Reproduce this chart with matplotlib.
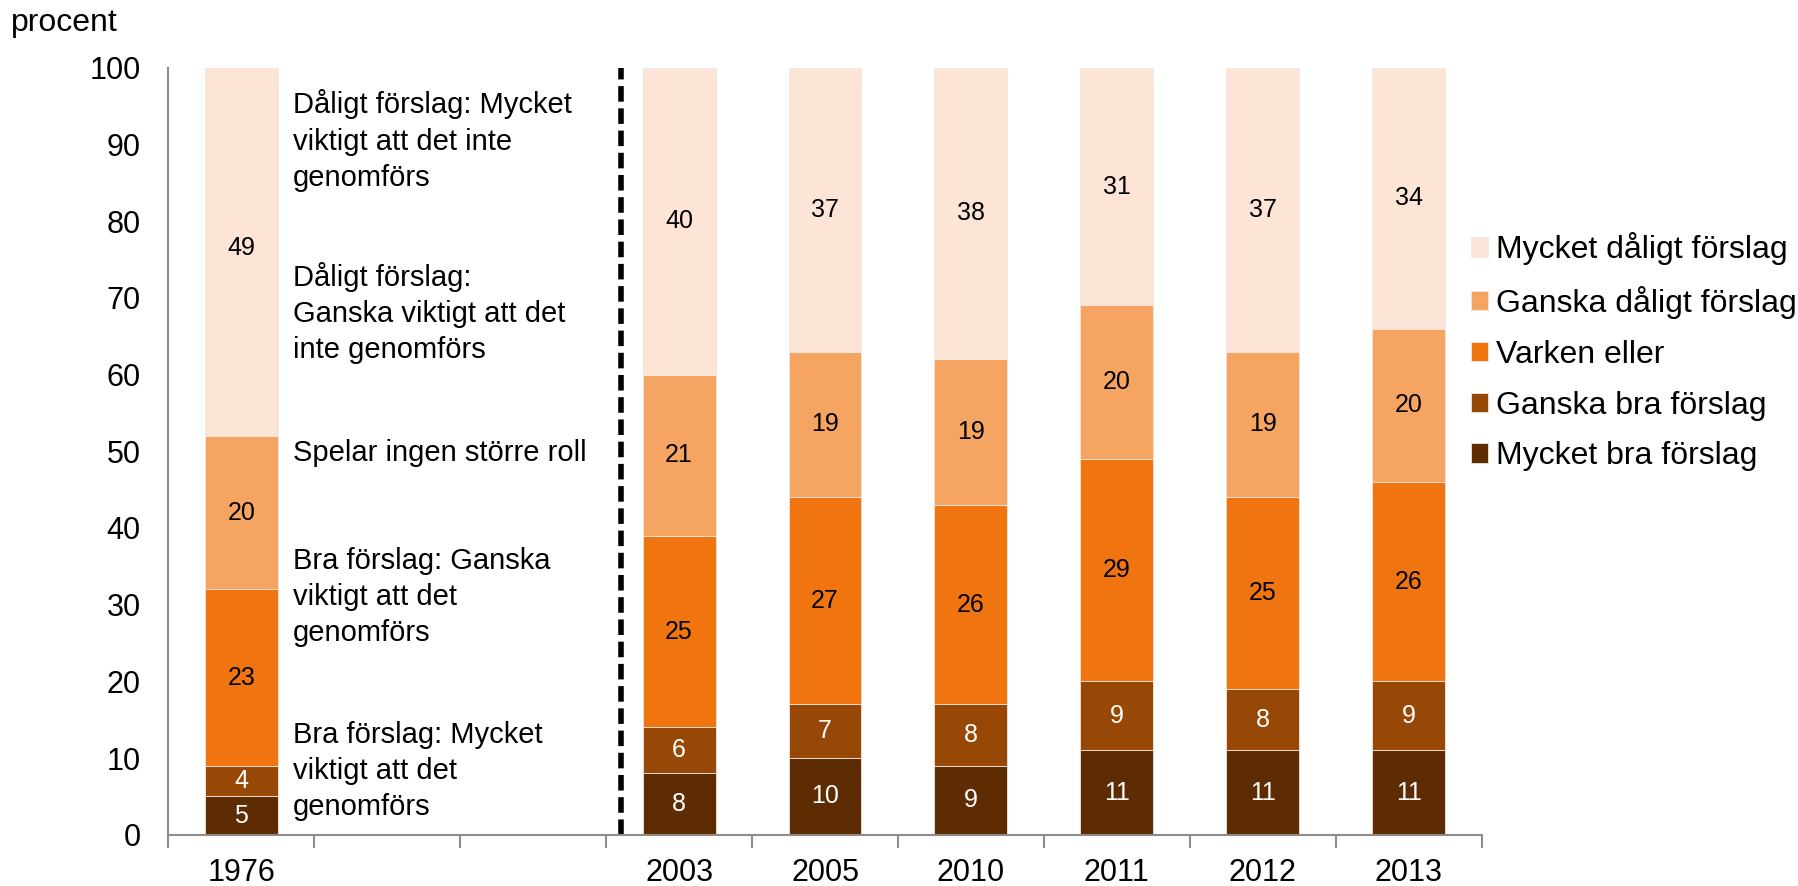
import numpy as np
import matplotlib
matplotlib.use('Agg')
import matplotlib.pyplot as plt

plt.rcParams['font.family'] = ['Liberation Sans', 'DejaVu Sans']

# categories on the x axis, two empty slots hold the 1976 explanations
years = ['1976', '', '', '2003', '2005', '2010', '2011', '2012', '2013']

series = ['Mycket bra förslag', 'Ganska bra förslag', 'Varken eller',
          'Ganska dåligt förslag', 'Mycket dåligt förslag']
colors = ['#5e2c02', '#984806', '#f07511', '#f5a561', '#fce4d6']
text_colors = ['white', 'white', 'black', 'black', 'black']

mycket_bra = [5, 0, 0, 8, 10, 9, 11, 11, 11]
ganska_bra = [4, 0, 0, 6, 7, 8, 9, 8, 9]
varken = [23, 0, 0, 25, 27, 26, 29, 25, 26]
ganska_daligt = [20, 0, 0, 21, 19, 19, 20, 19, 20]
mycket_daligt = [49, 0, 0, 40, 37, 38, 31, 37, 34]

notes = ['Dåligt förslag: Mycket\nviktigt att det inte\ngenomförs',
         'Dåligt förslag:\nGanska viktigt att det\ninte genomförs',
         'Spelar ingen större roll',
         'Bra förslag: Ganska\nviktigt att det\ngenomförs',
         'Bra förslag: Mycket\nviktigt att det\ngenomförs']
note_y = [90.5, 68.0, 49.8, 31.0, 8.3]

fig = plt.figure(figsize=(17.98, 8.86), dpi=100)
ax = fig.add_axes([0.0937, 0.0578, 0.7303, 0.8658])

x = np.arange(len(years))
data = [mycket_bra, ganska_bra, varken, ganska_daligt, mycket_daligt]
bottom = np.zeros(len(years))
handles = []
for vals, name, col, tcol in zip(data, series, colors, text_colors):
    vals = np.array(vals, dtype=float)
    bars = ax.bar(x, vals, 0.5, bottom=bottom, color=col, label=name,
                  edgecolor='#f3e6dc', linewidth=0.6)
    handles.append(bars)
    for xi, v, b in zip(x, vals, bottom):
        if v > 0:
            ax.text(xi, b + v / 2, str(int(v)), ha='center', va='center',
                    fontsize=18, color=tcol)
    bottom += vals

for txt, ty in zip(notes, note_y):
    ax.text(0.355, ty, txt, ha='left', va='center', fontsize=21,
            linespacing=1.37)

# dashed separator between 1976 and the later years
ax.plot([2.6, 2.6], [0, 100], color='black', lw=4, dashes=(2.8, 1.2))

ax.set_xlim(-0.5, 8.5)
ax.set_ylim(0, 100)
ax.set_yticks(range(0, 101, 10))
ax.tick_params(axis='y', length=0, pad=20, labelsize=22)
ax.set_xticks(x)
ax.set_xticklabels(years)
ax.tick_params(axis='x', which='major', length=0, pad=17, labelsize=22)
ax.set_xticks(np.arange(-0.5, 9, 1), minor=True)
ax.tick_params(axis='x', which='minor', length=9, width=1.5, color='#8c8c8c')

for s in ['top', 'right']:
    ax.spines[s].set_visible(False)
for s in ['left', 'bottom']:
    ax.spines[s].set_color('#8c8c8c')
    ax.spines[s].set_linewidth(1.5)

fig.legend(handles[::-1], series[::-1], loc='center left',
           bbox_to_anchor=(0.802, 0.603), frameon=False, fontsize=23,
           handlelength=0.55, handleheight=0.55, handletextpad=0.25,
           labelspacing=0.65)

fig.text(0.006, 1 - 23 / 886, 'procent', ha='left', va='center', fontsize=23)

fig.savefig('out.png', dpi=100)
